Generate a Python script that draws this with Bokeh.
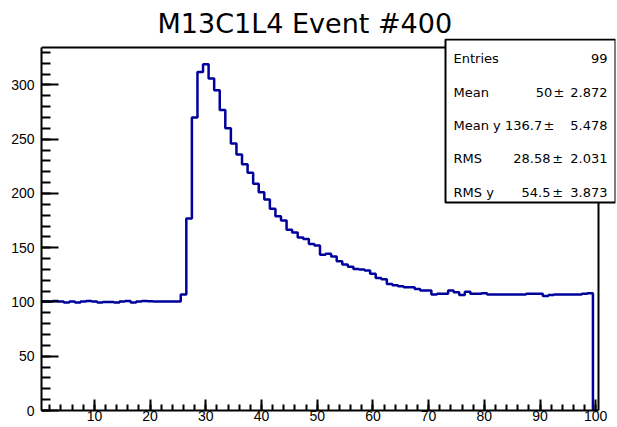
from bokeh.plotting import figure
from bokeh.models import Label, BoxAnnotation, SingleIntervalTicker, Range1d, ColumnDataSource
from bokeh.embed import file_html
from bokeh.resources import INLINE

# ---- data (TProfile "M13C1L4 Event #400", bins 1..99; bin 100 empty) ----
bin_centers = list(range(1, 100))
bin_values = [
    100.5, 100.5, 101.0, 100.5, 99.5, 100.5, 99.5, 100.5, 101.0, 100.5,
    99.5, 100.0, 100.0, 99.5, 100.5, 101.0, 99.5, 100.5, 101.0, 100.7,
    100.5, 100.5, 100.5, 100.5, 100.5, 107.0, 177.0, 270.0, 312.0, 319.0,
    306.0, 295.0, 277.0, 260.0, 246.0, 236.0, 227.0, 219.0, 209.0, 201.0,
    194.5, 186.0, 179.0, 175.0, 166.5, 164.0, 159.5, 158.0, 153.5, 152.0,
    143.5, 144.5, 142.0, 137.5, 134.5, 132.5, 130.5, 130.0, 129.0, 126.0,
    122.0, 121.0, 116.5, 115.5, 114.5, 113.5, 113.5, 112.0, 110.5, 110.5,
    107.0, 107.5, 107.5, 110.5, 109.0, 106.5, 109.5, 107.5, 107.5, 108.0,
    107.0, 107.0, 107.0, 107.0, 107.0, 107.0, 107.0, 107.5, 107.5, 107.5,
    105.5, 106.5, 107.0, 107.0, 107.0, 107.0, 107.0, 107.5, 108.0,
]
stat_labels = ["Entries", "Mean", "Mean y", "RMS", "RMS y"]
stat_values = ["99", "50", "136.7", "28.58", "54.5"]
stat_errors = ["", "2.872", "5.478", "2.031", "3.873"]
title_text = "M13C1L4 Event #400"
x_min, x_max = 0.5, 100.5
y_min, y_max = 0.0, 334.5

# ---- layout constants (canvas pixels) ----
W, H = 617, 427
FL, FB = 41, 410          # histogram frame left / bottom
FR, FT = 598, 47          # histogram frame right / top
BR, BT = 615, 38          # bokeh frame extends to include the stats box

px_x = (FR - FL) / (x_max - x_min)
px_y = (FB - FT) / (y_max - y_min)
xr = Range1d(x_min, x_max + (BR - FR) / px_x)
yr = Range1d(y_min, y_max + (FT - BT) / px_y)

# ---- histogram outline (step, ROOT "HIST" style) ----
edges = [c - 0.5 for c in bin_centers] + [bin_centers[-1] + 0.5, x_max]
levels = bin_values + [0.0, 0.0]
src = ColumnDataSource(dict(x=edges, y=levels))

p = figure(width=W, height=H, x_range=xr, y_range=yr,
           output_backend="svg", toolbar_location=None,
           min_border_left=FL, min_border_right=W - BR, min_border_top=BT, min_border_bottom=H - FB)
p.grid.visible = False
p.background_fill_color = "white"
p.border_fill_color = "white"
p.outline_line_color = None

# frame top and right edges
p.segment(x0=[x_min, x_max], y0=[y_max, y_min], x1=[x_max, x_max], y1=[y_max, y_max],
          line_color="black", line_width=2)

p.step(x="x", y="y", source=src, mode="after", line_color="#00009c", line_width=2.5)

LABEL_FONT = "Liberation Sans"
TEXT_FONT = "DejaVu Sans"

xa = p.xaxis[0]
xa.bounds = (x_min, x_max)
xa.ticker = SingleIntervalTicker(interval=10, num_minor_ticks=5)
xa.major_tick_in = 11
xa.major_tick_out = 0
xa.minor_tick_in = 6
xa.minor_tick_out = 0
xa.axis_line_width = 2
xa.major_tick_line_width = 2
xa.minor_tick_line_width = 2
xa.major_label_standoff = 0
xa.major_label_text_font = LABEL_FONT
xa.major_label_text_font_size = "14px"
xa.major_label_text_color = "black"

ya = p.yaxis[0]
ya.bounds = (y_min, y_max)
ya.ticker = SingleIntervalTicker(interval=50, num_minor_ticks=5)
ya.major_tick_in = 17
ya.major_tick_out = 0
ya.minor_tick_in = 9
ya.minor_tick_out = 0
ya.axis_line_width = 2
ya.major_tick_line_width = 2
ya.minor_tick_line_width = 2
ya.major_label_standoff = 7
ya.major_label_text_font = LABEL_FONT
ya.major_label_text_font_size = "14px"
ya.major_label_text_color = "black"

# title
p.title.text = title_text
p.title.text_font = TEXT_FONT
p.title.text_font_size = "27px"
p.title.text_font_style = "normal"
p.title.text_color = "black"
p.title.align = "left"
p.title.offset = 157 - FL
p.title.standoff = 0


def sx(X):
    return X - FL


def sy(Y):
    return FB - Y


# stats box
p.add_layout(BoxAnnotation(left=sx(445), right=sx(615), top=sy(39), bottom=sy(202),
                           left_units="screen", right_units="screen", top_units="screen", bottom_units="screen",
                           fill_color="white", fill_alpha=1.0, line_color="black", line_width=2,
                           line_alpha=1.0, level="overlay"))
baselines = [58.3, 91.7, 125.0, 158.3, 191.7]
value_right = [607, 551.7, 541.7, 550, 550]
pm_left = [None, 553, 543, 551.7, 551.7]


def txt(X, Y, s, align):
    p.add_layout(Label(x=sx(X), y=sy(Y), x_units="screen", y_units="screen", text=s,
                       text_font=TEXT_FONT, text_font_size="13px", text_color="black",
                       text_align=align, text_baseline="alphabetic", level="overlay"))


for lab, val, err, yb, vr, pl in zip(stat_labels, stat_values, stat_errors, baselines, value_right, pm_left):
    txt(453, yb, lab, "left")
    txt(vr, yb, val, "right")
    if err:
        txt(pl, yb, "\u00b1", "left")
        txt(607, yb, err, "right")

open("out.html", "w").write(file_html(p, INLINE))
